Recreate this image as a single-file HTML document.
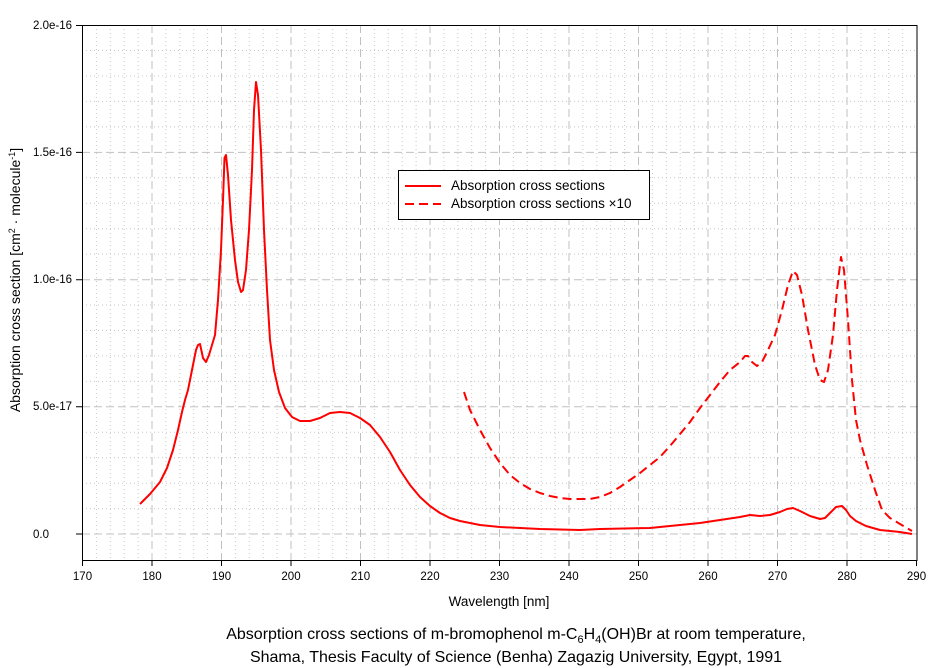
<!DOCTYPE html>
<html><head><meta charset="utf-8"><style>body{margin:0;background:#fff}svg{display:block}text{font-family:"Liberation Sans",Arial,sans-serif;fill:#000}</style></head><body>
<svg width="942" height="668" xmlns="http://www.w3.org/2000/svg">
<g stroke="#c8c8c8" stroke-width="1" stroke-dasharray="1,3">
<path d="M96.4 25V560M110.3 25V560M124.2 25V560M138.1 25V560M165.9 25V560M179.8 25V560M193.7 25V560M207.6 25V560M235.4 25V560M249.3 25V560M263.2 25V560M277.1 25V560M304.9 25V560M318.8 25V560M332.7 25V560M346.6 25V560M374.4 25V560M388.3 25V560M402.2 25V560M416.1 25V560M443.9 25V560M457.8 25V560M471.7 25V560M485.6 25V560M513.4 25V560M527.3 25V560M541.2 25V560M555.1 25V560M582.9 25V560M596.8 25V560M610.7 25V560M624.6 25V560M652.4 25V560M666.3 25V560M680.2 25V560M694.1 25V560M721.9 25V560M735.8 25V560M749.7 25V560M763.6 25V560M791.4 25V560M805.3 25V560M819.2 25V560M833.1 25V560M860.9 25V560M874.8 25V560M888.7 25V560M902.6 25V560"/>
<path d="M82 50.5H917M82 76H917M82 101.4H917M82 126.9H917M82 177.8H917M82 203.2H917M82 228.7H917M82 254.1H917M82 305H917M82 330.5H917M82 355.9H917M82 381.4H917M82 432.3H917M82 457.7H917M82 483.2H917M82 508.6H917"/>
</g>
<g stroke="#c0c0c0" stroke-width="1" stroke-dasharray="8,4">
<path d="M152 25V560M221.5 25V560M291 25V560M360.5 25V560M430 25V560M499.5 25V560M569 25V560M638.5 25V560M708 25V560M777.5 25V560M847 25V560"/>
<path d="M82 152.4H917M82 279.7H917M82 406.7H917M82 534H917"/>
</g>
<rect x="82.5" y="25.5" width="834.5" height="535" fill="none" stroke="#000" stroke-width="1"/>
<g stroke="#000"><path d="M76 25.5H82M76 152.4H82M76 279.7H82M76 406.7H82M76 534H82"/>
<path d="M82.5 560V566M152 560V566M221.5 560V566M291 560V566M360.5 560V566M430 560V566M499.5 560V566M569 560V566M638.5 560V566M708 560V566M777.5 560V566M847 560V566M916.5 560V566"/></g>
<g font-size="11.5">
<text x="33" y="29">2.0e-16</text><text x="33" y="156">1.5e-16</text><text x="33" y="283">1.0e-16</text><text x="33" y="410">5.0e-17</text><text x="33" y="538">0.0</text></g>
<g font-size="11.5" text-anchor="middle">
<text x="82.5" y="580">170</text><text x="152" y="580">180</text><text x="221.5" y="580">190</text><text x="291" y="580">200</text><text x="360.5" y="580">210</text><text x="430" y="580">220</text><text x="499.5" y="580">230</text><text x="569" y="580">240</text><text x="638.5" y="580">250</text><text x="708" y="580">260</text><text x="777.5" y="580">270</text><text x="847" y="580">280</text><text x="916.5" y="580">290</text>
<text x="499" y="606" font-size="13.5">Wavelength [nm]</text>
<text x="516" y="639" font-size="16">Absorption cross sections of m-bromophenol m-C<tspan font-size="11" dy="4">6</tspan><tspan dy="-4">H</tspan><tspan font-size="11" dy="4">4</tspan><tspan dy="-4">(OH)Br at room temperature,</tspan></text>
<text x="516" y="662" font-size="16">Shama, Thesis Faculty of Science (Benha) Zagazig University, Egypt, 1991</text>
</g>
<text transform="translate(20,280) rotate(-90)" font-size="14" text-anchor="middle">Absorption cross section [cm<tspan font-size="9" dy="-5">2</tspan><tspan dy="5"> · molecule</tspan><tspan font-size="9" dy="-5">-1</tspan><tspan dy="5">]</tspan></text>
<path fill="none" stroke="#f00" stroke-width="2" stroke-linejoin="round" d="M140 504L150 494L160 482L167 468L173 450L178 430L182 412L185 400L188 390L191 375L194 360L196 350L198 345L200 344L203 358L206 362L209 355L212 345L215 335L218 300L221 250L223 200L224.5 158L226 155L228 175L231 220L235 260L238 282L241 292L243 290L246 270L249 230L252 170L254 110L256 82L258 95L261 150L264 230L267 290L270 340L274 370L279 392L285 408L292 417L300 421L310 421L320 418L330 413L340 412L350 413L360 418L370 425L380 437L390 452L400 470L410 485L420 497L430 506L440 513L450 518L460 521L480 525L500 527L540 529L580 530L600 529L650 528L700 523L740 517L750 515L760 516L770 515L780 512L787 509L793 508L800 511L810 516L820 519L825 518L830 513L836 507L842 506L846 510L850 516L856 521L866 526L880 530L900 532L912 534"/>
<path fill="none" stroke="#f00" stroke-width="2" stroke-dasharray="9,5" stroke-linejoin="round" d="M464 392L470 410L480 430L490 448L500 463L510 475L520 483L530 489L540 493L550 496L560 498L570 499L590 499L600 497L610 493L620 487L630 480L640 473L650 465L660 457L670 446L680 434L690 422L700 408L710 395L720 382L730 370L740 362L745 356L748 356L752 362L757 366L762 362L768 350L775 335L782 310L788 285L793 271L797 275L802 295L808 330L815 365L820 380L824 382L828 370L833 335L837 290L841 257L844 270L848 320L852 380L856 420L860 440L867 465L875 490L882 510L890 518L900 524L912 531"/>
<rect x="398.5" y="170.5" width="251" height="49" fill="#fff" stroke="#000"/>
<path d="M405 186H441" stroke="#f00" stroke-width="2"/>
<path d="M405 204H441" stroke="#f00" stroke-width="2" stroke-dasharray="9,5"/>
<text x="451" y="190" font-size="13.5">Absorption cross sections</text>
<text x="451" y="208" font-size="13.5">Absorption cross sections ×10</text>
</svg>
</body></html>
